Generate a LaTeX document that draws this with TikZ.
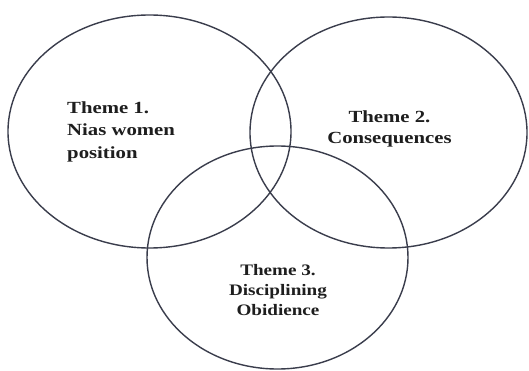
\documentclass[tikz,border=0pt]{standalone}
\usepackage{fontspec}
\setmainfont{Liberation Serif}
\usetikzlibrary{shapes.geometric}
\definecolor{rim}{HTML}{3A3D4C}
\definecolor{ink}{HTML}{1E1E1E}
\tikzset{
  theme/.style={draw=rim, line width=1.4pt, ellipse, inner sep=0pt},
  label/.style={text=ink, inner sep=0pt, font=\bfseries\fontsize{17}{22.5}\selectfont, xscale=1.22},
}
\begin{document}
\begin{tikzpicture}[x=1pt, y=-1pt]
  \useasboundingbox (0,0) rectangle (529,371);
  \fill[white] (0,0) rectangle (529,371);
  % the three overlapping circles
  \node[theme, minimum width=283pt, minimum height=233pt] (c1) at (149.5,131.5) {};
  \node[theme, minimum width=277pt, minimum height=231pt] (c2) at (388.5,132.5) {};
  \node[theme, minimum width=261pt, minimum height=223pt] (c3) at (277.5,257.5) {};
  % theme labels
  \node[label, anchor=north west, align=left] (t1) at (67,101.5)
    {Theme 1.\\Nias women\\position};
  \node[label, anchor=north, align=center, font=\bfseries\fontsize{17}{21}\selectfont] (t2) at (389.5,110.5)
    {Theme 2.\\Consequences};
  \node[label, anchor=north, align=center, font=\bfseries\fontsize{16}{20}\selectfont, xscale=0.98] (t3) at (278,264)
    {Theme 3.\\Disciplining\\Obidience};
\end{tikzpicture}
\end{document}
